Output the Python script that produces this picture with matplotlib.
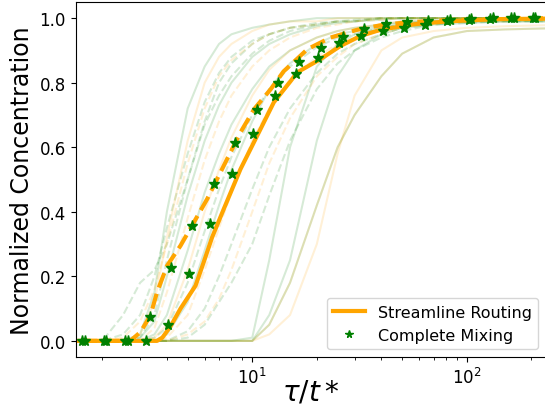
import numpy as np
import matplotlib.pyplot as plt

# main curves (tau/t*, normalized concentration)
sr_tau = [1.0, 3.60, 3.81, 4.16, 4.63, 5.44, 5.94, 6.50, 7.37, 8.81, 10.55, 12.6, 15.1,
          16.2, 20.8, 25.8, 32.0, 39.7, 56.8, 81.3, 139, 300]
sr_conc = [0, 0, 0.01, 0.045, 0.10, 0.171, 0.244, 0.321, 0.409, 0.532, 0.636, 0.739, 0.805,
           0.832, 0.873, 0.914, 0.945, 0.964, 0.981, 0.99, 0.997, 0.999]

sr2_tau = [1.0, 2.70, 3.01, 3.35, 3.60, 4.01, 4.63, 5.34, 6.17, 7.37, 8.81, 10.2, 12.2,
           14.0, 18.1, 23.2, 30.9, 39.7, 52.9, 81.3, 166, 300]
sr2_conc = [0, 0, 0.027, 0.078, 0.151, 0.233, 0.295, 0.367, 0.44, 0.543, 0.646, 0.718, 0.78,
            0.835, 0.904, 0.940, 0.964, 0.978, 0.987, 0.994, 0.999, 1.0]

cm_tau = [1.61, 2.03, 2.55, 3.21, 4.04, 5.08, 6.38, 8.07, 10.1, 12.7, 16.0, 20.3, 25.5,
          32.1, 40.5, 50.9, 63.8, 80.7, 102, 128, 161, 203]
cm_conc = [0, 0, 0, 0, 0.05, 0.207, 0.361, 0.517, 0.641, 0.759, 0.828, 0.877, 0.922,
           0.945, 0.959, 0.969, 0.979, 0.991, 0.995, 0.997, 0.999, 0.999]

cm2_tau = [1.66, 2.09, 2.64, 3.32, 4.18, 5.26, 6.62, 8.34, 10.5, 13.2, 16.6, 20.9, 26.4,
           33.2, 41.8, 52.6, 66.2, 83.4, 105, 132, 166, 209]
cm2_conc = [0, 0, 0, 0.073, 0.225, 0.357, 0.486, 0.613, 0.715, 0.799, 0.863, 0.907, 0.942,
            0.966, 0.981, 0.987, 0.991, 0.995, 0.997, 0.999, 1.0, 1.0]

# individual realizations, all on one tau grid
bg_tau = [1.0, 2, 2.5, 3, 3.5, 4, 5, 6, 7, 8, 10, 12, 15, 20, 25, 30, 40, 50, 70, 100, 150, 300]
bg_curves = [
    ("green", "--", [0, 0, 0.08, 0.18, 0.22, 0.30, 0.50, 0.68, 0.80, 0.86, 0.92, 0.95, 0.97, 0.985, 0.99, 0.995, 1, 1, 1, 1, 1, 1]),
    ("green", "--", [0, 0, 0.02, 0.08, 0.20, 0.35, 0.58, 0.74, 0.83, 0.88, 0.93, 0.95, 0.97, 0.98, 0.99, 0.99, 1, 1, 1, 1, 1, 1]),
    ("orange", "--", [0, 0, 0.01, 0.06, 0.16, 0.30, 0.55, 0.72, 0.82, 0.87, 0.92, 0.95, 0.97, 0.98, 0.99, 0.99, 1, 1, 1, 1, 1, 1]),
    ("green", "-", [0, 0, 0, 0.02, 0.15, 0.40, 0.72, 0.85, 0.92, 0.95, 0.97, 0.98, 0.99, 1, 1, 1, 1, 1, 1, 1, 1, 1]),
    ("orange", "-", [0, 0, 0, 0.02, 0.12, 0.32, 0.62, 0.80, 0.88, 0.92, 0.96, 0.98, 0.99, 0.99, 1, 1, 1, 1, 1, 1, 1, 1]),
    ("green", "--", [0, 0, 0, 0.01, 0.08, 0.25, 0.50, 0.67, 0.76, 0.82, 0.89, 0.93, 0.96, 0.98, 0.99, 0.99, 1, 1, 1, 1, 1, 1]),
    ("green", "-", [0, 0, 0, 0.01, 0.06, 0.20, 0.45, 0.62, 0.73, 0.80, 0.88, 0.92, 0.95, 0.975, 0.985, 0.99, 0.995, 1, 1, 1, 1, 1]),
    ("orange", "--", [0, 0, 0, 0, 0.04, 0.15, 0.38, 0.56, 0.68, 0.76, 0.85, 0.90, 0.94, 0.97, 0.98, 0.99, 0.995, 1, 1, 1, 1, 1]),
    ("green", "-", [0, 0, 0, 0, 0.02, 0.08, 0.28, 0.46, 0.58, 0.67, 0.78, 0.85, 0.90, 0.94, 0.96, 0.97, 0.98, 0.99, 0.99, 1, 1, 1]),
    ("orange", "-", [0, 0, 0, 0, 0.01, 0.05, 0.22, 0.40, 0.53, 0.63, 0.76, 0.84, 0.90, 0.94, 0.96, 0.97, 0.98, 0.99, 0.99, 1, 1, 1]),
    ("green", "--", [0, 0, 0, 0, 0.01, 0.04, 0.18, 0.34, 0.47, 0.57, 0.70, 0.78, 0.85, 0.91, 0.94, 0.95, 0.97, 0.98, 0.99, 0.99, 1, 1]),
    ("green", "-", [0, 0, 0, 0, 0, 0.02, 0.12, 0.28, 0.42, 0.53, 0.68, 0.78, 0.86, 0.92, 0.95, 0.96, 0.975, 0.985, 0.99, 0.99, 1, 1]),
    ("orange", "--", [0, 0, 0, 0, 0, 0.01, 0.08, 0.22, 0.35, 0.46, 0.62, 0.72, 0.81, 0.88, 0.92, 0.94, 0.96, 0.975, 0.985, 0.99, 0.995, 1]),
    ("green", "--", [0, 0, 0, 0, 0, 0, 0.03, 0.10, 0.20, 0.30, 0.47, 0.60, 0.72, 0.83, 0.89, 0.92, 0.95, 0.97, 0.98, 0.99, 0.99, 0.995]),
    ("orange", "--", [0, 0, 0, 0, 0, 0, 0.02, 0.06, 0.13, 0.22, 0.40, 0.55, 0.69, 0.82, 0.88, 0.92, 0.95, 0.97, 0.985, 0.99, 0.99, 0.995]),
    ("green", "--", [0, 0, 0, 0, 0, 0, 0.01, 0.05, 0.12, 0.18, 0.30, 0.45, 0.62, 0.78, 0.86, 0.90, 0.94, 0.96, 0.98, 0.985, 0.99, 0.99]),
    ("green", "-", [0, 0, 0, 0, 0, 0, 0, 0, 0, 0, 0.01, 0.25, 0.60, 0.85, 0.92, 0.95, 0.97, 0.98, 0.985, 0.99, 0.99, 0.99]),
    ("green", "-", [0, 0, 0, 0, 0, 0, 0, 0, 0, 0, 0, 0.08, 0.25, 0.62, 0.82, 0.90, 0.95, 0.97, 0.98, 0.985, 0.99, 0.99]),
    ("orange", "-", [0, 0, 0, 0, 0, 0, 0, 0, 0, 0, 0, 0.02, 0.08, 0.30, 0.58, 0.76, 0.90, 0.94, 0.96, 0.97, 0.975, 0.98]),
    ("green", "-", [0, 0, 0, 0, 0, 0, 0, 0, 0, 0, 0, 0.05, 0.18, 0.42, 0.60, 0.70, 0.82, 0.89, 0.94, 0.96, 0.965, 0.97]),
    ("orange", "-", [0, 0, 0, 0, 0, 0, 0, 0, 0, 0, 0, 0.05, 0.18, 0.42, 0.60, 0.70, 0.82, 0.89, 0.94, 0.96, 0.965, 0.97]),
]

fig = plt.figure(figsize=(5.45, 4.06), dpi=100)
ax = fig.add_axes([75.5 / 545, 48 / 406, 470.5 / 545, 355 / 406])

for color, ls, conc in bg_curves:
    ax.plot(bg_tau, conc, color=color, ls=ls, lw=1.5, alpha=0.16)

ax.plot(sr2_tau, sr2_conc, color="orange", ls="--", lw=3)
ax.plot(sr_tau, sr_conc, color="orange", lw=3, label="Streamline Routing")
ax.plot(cm_tau, cm_conc, "*", color="green", ms=8, label="Complete Mixing")
ax.plot(cm2_tau, cm2_conc, "*", color="green", ms=8)

ax.set_xscale("log")
ax.set_xlim(1.50, 234)
ax.set_ylim(-0.05, 1.05)
ax.tick_params(labelsize=12)
ax.set_xlabel(r"$\tau/t*$", fontsize=20, labelpad=-7)
ax.set_ylabel("Normalized Concentration", fontsize=17, labelpad=4)
ax.legend(loc="lower right", fontsize=11.5, markerscale=0.7)

fig.savefig("out.png", dpi=100)
